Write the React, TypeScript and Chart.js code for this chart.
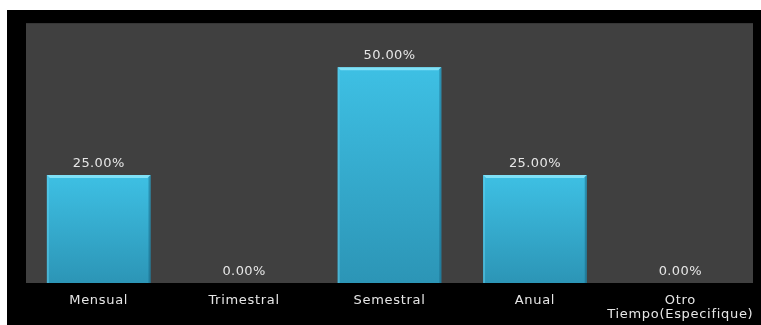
import React, { useEffect, useRef } from "react";
import { Chart, registerables } from "chart.js";

Chart.register(...registerables);

const categories: (string | string[])[] = ["Mensual", "Trimestral", "Semestral", "Anual", ["Otro", "Tiempo(Especifique)"]];
const values: number[] = [0.25, 0, 0.5, 0.25, 0];
const valueLabels: string[] = ["25.00%", "0.00%", "50.00%", "25.00%", "0.00%"];

const FONT = "'DejaVu Sans', Verdana, sans-serif";

const bgPlugin = {
  id: "bgPlugin",
  beforeDraw(chart: any) {
    const { ctx, chartArea, width, height } = chart;
    ctx.save();
    ctx.fillStyle = "#000000";
    ctx.fillRect(0, 0, width, height);
    ctx.fillStyle = "#404040";
    ctx.fillRect(chartArea.left, chartArea.top, chartArea.right - chartArea.left, chartArea.bottom - chartArea.top);
    ctx.fillStyle = "#363636";
    ctx.fillRect(chartArea.left, chartArea.top - 1, chartArea.right - chartArea.left, 1);
    ctx.restore();
    (ctx as any).letterSpacing = "0.7px";
  },
};

const labelPlugin = {
  id: "labelPlugin",
  afterDatasetsDraw(chart: any) {
    const { ctx } = chart;
    const meta = chart.getDatasetMeta(0);
    ctx.save();
    // bevel edges
    meta.data.forEach((bar: any) => {
      const h = bar.base - bar.y;
      if (h < 2) return;
      const l = bar.x - bar.width / 2;
      const r = bar.x + bar.width / 2;
      const t = bar.y;
      const b = bar.base;
      ctx.fillStyle = "rgba(140,230,250,0.85)";
      ctx.beginPath();
      ctx.moveTo(l, t);
      ctx.lineTo(r, t);
      ctx.lineTo(r - 3, t + 3);
      ctx.lineTo(l + 3, t + 3);
      ctx.closePath();
      ctx.fill();
      ctx.fillStyle = "rgba(20,90,120,0.45)";
      ctx.beginPath();
      ctx.moveTo(r, t);
      ctx.lineTo(r, b);
      ctx.lineTo(r - 2, b);
      ctx.lineTo(r - 2, t + 2);
      ctx.closePath();
      ctx.fill();
      ctx.fillStyle = "rgba(100,210,240,0.5)";
      ctx.beginPath();
      ctx.moveTo(l, t);
      ctx.lineTo(l, b);
      ctx.lineTo(l + 2, b);
      ctx.lineTo(l + 2, t + 2);
      ctx.closePath();
      ctx.fill();
    });
    (ctx as any).letterSpacing = "0.4px";
    ctx.fillStyle = "#e6e6e6";
    ctx.font = `13px ${FONT}`;
    ctx.textAlign = "center";
    ctx.textBaseline = "bottom";
    meta.data.forEach((bar: any, i: number) => {
      ctx.fillText(valueLabels[i], bar.x, bar.y - 5);
    });
    ctx.restore();
  },
};

export default function App() {
  const ref = useRef<HTMLCanvasElement>(null);
  useEffect(() => {
    if (!ref.current) return;
    const chart = new Chart(ref.current, {
      type: "bar",
      data: {
        labels: categories,
        datasets: [
          {
            data: values,
            backgroundColor: (c: any) => {
              const ys = c.chart.scales && c.chart.scales.y;
              if (!ys || !c.chart.chartArea) return "#37b0d6";
              const top = ys.getPixelForValue(values[c.dataIndex] || 0);
              const bottom = ys.getPixelForValue(0);
              if (!isFinite(top) || bottom - top < 1) return "#37b0d6";
              const g = c.chart.ctx.createLinearGradient(0, top, 0, bottom);
              g.addColorStop(0, "#3ec0e4");
              g.addColorStop(1, "#2c95b6");
              return g;
            },
            borderWidth: 0,
            categoryPercentage: 1,
            barPercentage: 0.713,
          },
        ],
      },
      options: {
        responsive: true,
        maintainAspectRatio: false,
        animation: false,
        layout: { padding: { left: 19, right: 8, top: 14, bottom: 0 } },
        plugins: { legend: { display: false }, tooltip: { enabled: false } },
        scales: {
          y: { display: false, min: 0, max: 0.6 },
          x: {
            grid: { display: false },
            border: { display: false },
            ticks: {
              color: "#e6e6e6",
              font: { family: FONT, size: 13, lineHeight: 1.1 },
              padding: 2,
              maxRotation: 0,
              autoSkip: false,
            },
            afterFit: (s: any) => {
              s.height = 42;
            },
          },
        },
      },
      plugins: [bgPlugin, labelPlugin],
    });
    return () => chart.destroy();
  }, []);
  return (
    <div style={{ position: "absolute", left: 7, top: 10, width: 754, height: 315 }}>
      <canvas ref={ref} />
    </div>
  );
}
